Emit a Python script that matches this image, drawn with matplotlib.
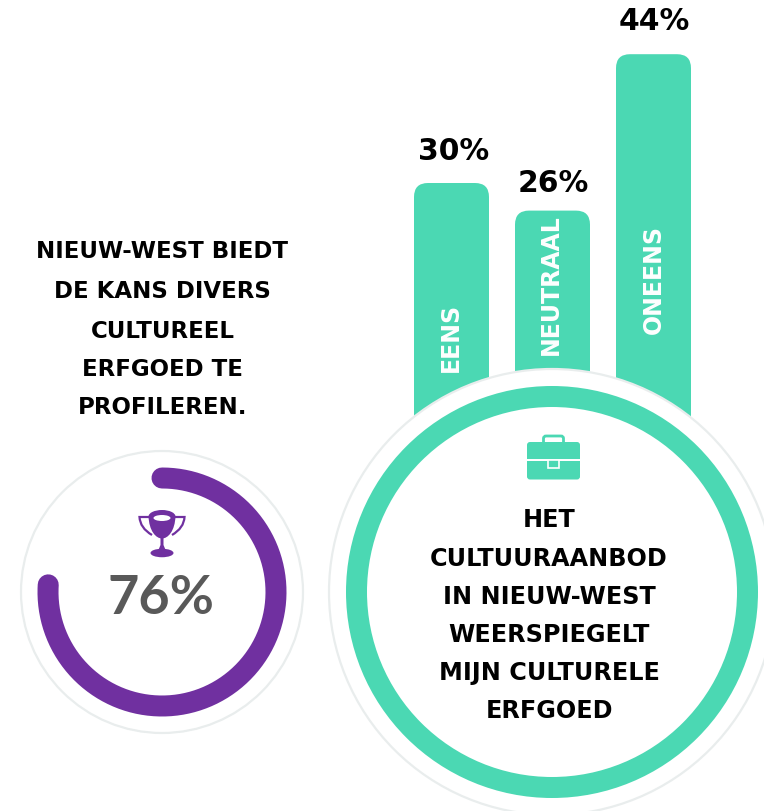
import numpy as np
import matplotlib
matplotlib.use("Agg")
import matplotlib.pyplot as plt
from matplotlib.patches import Circle, Ellipse, FancyBboxPatch, Rectangle, PathPatch
from matplotlib.path import Path

# ---- data ----
categories = ["EENS", "NEUTRAAL", "ONEENS"]
bar_labels = ["30%", "26%", "44%"]
bar_lengths = [30, 27, 44]          # drawn lengths
donut_value = 76
left_lines = ["NIEUW-WEST BIEDT", "DE KANS DIVERS", "CULTUREEL", "ERFGOED TE", "PROFILEREN."]
right_lines = ["HET", "CULTUURAANBOD", "IN NIEUW-WEST", "WEERSPIEGELT", "MIJN CULTURELE", "ERFGOED"]

MINT = "#4bd8b3"
PURPLE = "#7030a0"
LIGHT = "#e9eded"
GREY = "#595959"
W, H = 764, 811
FONT = "DejaVu Sans"

fig = plt.figure(figsize=(W / 100, H / 100), dpi=100, facecolor="white")

# ---- bars: a value axis, 9.2 px per percent point, baseline at y=459 px ----
BASE = 459
PX_PER = 9.2
axb = fig.add_axes([0, 1 - BASE / H, 1, BASE / H])
axb.set_xlim(0, W)
axb.set_ylim(0, BASE / PX_PER)
axb.axis("off")
x_pos = [451.5, 552.5, 653.5]
bw = 75
rx = 14
ry = rx / PX_PER
for xc, v in zip(x_pos, bar_lengths):
    l, r = xc - bw / 2, xc + bw / 2
    verts = [(l, 0), (l, v - ry), (l, v), (l + rx, v), (r - rx, v), (r, v), (r, v - ry), (r, 0), (l, 0)]
    codes = [Path.MOVETO, Path.LINETO, Path.CURVE3, Path.CURVE3, Path.LINETO,
             Path.CURVE3, Path.CURVE3, Path.LINETO, Path.CLOSEPOLY]
    axb.add_patch(PathPatch(Path(verts, codes), fc=MINT, ec="none"))

# ---- overlay in pixel space ----
ax = fig.add_axes([0, 0, 1, 1])
ax.set_xlim(0, W)
ax.set_ylim(H, 0)
ax.axis("off")
ax.patch.set_alpha(0)

# large circle
ax.add_patch(Circle((552, 592), 223, fc="white", ec=LIGHT, lw=1.6))
ax.add_patch(Circle((552, 592), 195.5, fc="white", ec=MINT, lw=21 * 0.72))

# donut
ax.add_patch(Circle((162, 592), 141, fc="white", ec=LIGHT, lw=1.6))
theta = np.linspace(0, 2 * np.pi * donut_value / 100, 300)
ax.plot(162 + 114 * np.sin(theta), 592 - 114 * np.cos(theta), color=PURPLE, lw=21 * 0.72,
        solid_capstyle="round")
ax.text(161, 598, f"{donut_value}%", color=GREY, fontsize=39, family="Lato", weight="bold",
        ha="center", va="center")

# trophy
ax.add_patch(Ellipse((162, 553), 23, 8.5, fc=PURPLE, ec="none"))
stem = [(158, 551), (160.5, 545), (160.5, 538), (163.5, 538), (163.5, 545), (166, 551), (158, 551)]
ax.add_patch(PathPatch(Path(stem), fc=PURPLE, ec="none"))
bowl = [(148.5, 516), (149, 531), (156, 538.5), (162, 538.5), (168, 538.5), (175, 531), (175.5, 516), (148.5, 516)]
ax.add_patch(PathPatch(Path(bowl, [Path.MOVETO, Path.CURVE4, Path.CURVE4, Path.CURVE4,
                                   Path.CURVE4, Path.CURVE4, Path.CURVE4, Path.CLOSEPOLY]),
                       fc=PURPLE, ec="none"))
ax.add_patch(Ellipse((162, 516.5), 27, 13, fc=PURPLE, ec="none"))
ax.add_patch(Ellipse((162, 518), 17, 6, fc="white", ec="none"))
for sgn in (-1, 1):
    hv = [(162 + sgn * 13, 517), (162 + sgn * 22.5, 517), (162 + sgn * 22, 528), (162 + sgn * 10, 535)]
    ax.add_patch(PathPatch(Path(hv, [Path.MOVETO, Path.LINETO, Path.CURVE3, Path.CURVE3]),
                           fc="none", ec=PURPLE, lw=1.6))

# briefcase
ax.add_patch(FancyBboxPatch((543.5, 436), 20, 10, boxstyle="round,pad=0,rounding_size=2.5",
                            fc="white", ec=MINT, lw=2))
ax.add_patch(FancyBboxPatch((527, 442), 53, 37.5, boxstyle="round,pad=0,rounding_size=3",
                            fc=MINT, ec="none"))
ax.add_patch(Rectangle((527, 459), 53, 2, fc="white", ec="none"))
ax.add_patch(Rectangle((548, 460), 10.5, 7.5, fc=MINT, ec="white", lw=1.2))

# texts
def block(lines, x, ys, size):
    for line, y in zip(lines, ys):
        ax.text(x, y, line, ha="center", va="center", fontsize=size, weight="bold",
                family=FONT, color="black")

block(left_lines, 162.5, [252, 291, 331, 369, 407], 16.5)
block(right_lines, 549, [520, 559, 597, 635, 673, 711], 17.2)

for xc, y, t in zip([454, 553, 654], [151, 184, 22], bar_labels):
    ax.text(xc, y, t, ha="center", va="center", fontsize=21.4, weight="bold", family=FONT, color="black")

for xc, y, t in zip([451, 551, 654], [337, 285, 279], categories):
    ax.text(xc, y, t, ha="center", va="center", rotation=90, fontsize=17, weight="bold",
            family=FONT, color="white")

fig.savefig("out.png", dpi=100, facecolor="white")
